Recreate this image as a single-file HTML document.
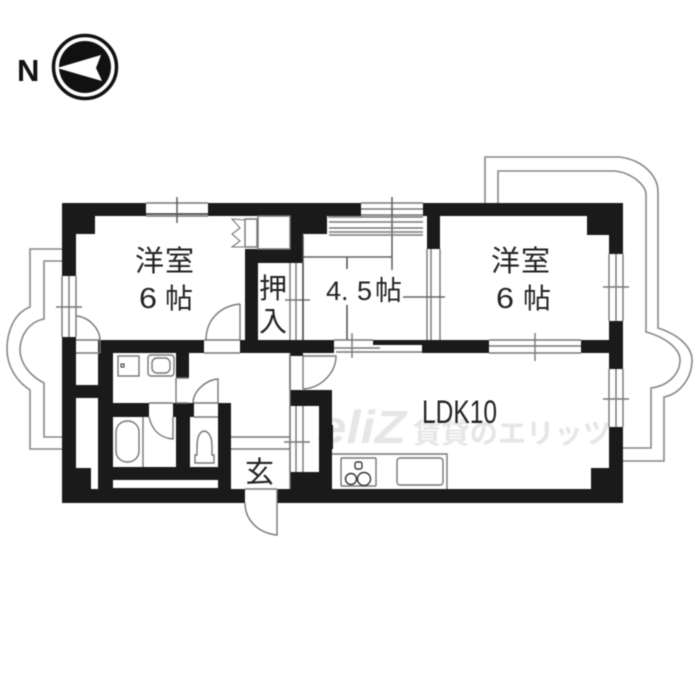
<!DOCTYPE html>
<html><head><meta charset="utf-8"><style>
html,body{margin:0;padding:0;background:#fff;width:700px;height:700px;overflow:hidden}
svg{display:block;filter:blur(.4px)}
text{font-family:"Liberation Sans","Noto Sans CJK JP",sans-serif;fill:#222}
</style></head><body>
<svg width="700" height="700" viewBox="0 0 700 700" xmlns="http://www.w3.org/2000/svg">
<!-- compass -->
<text x="17" y="81" font-size="31" font-weight="bold" style="fill:#111">N</text>
<circle cx="85" cy="67" r="31.5" fill="#fff" stroke="#111" stroke-width="3.5"/>
<circle cx="85" cy="67" r="26" fill="#111"/>
<polygon points="57,68 101,55 96,68 102,81" fill="#fff"/>
<!-- watermark -->
<text x="318" y="443" font-size="46" font-weight="bold" font-style="italic" textLength="88" lengthAdjust="spacingAndGlyphs" style="fill:#e6e6e6">eliZ</text>
<text x="413" y="443" font-size="28" font-weight="bold" textLength="198" lengthAdjust="spacingAndGlyphs" style="fill:#e6e6e6">賃貸のエリッツ</text>
<!-- balconies -->
<g fill="none" stroke="#888" stroke-width="1.6">
<path d="M62 249H30V307C12 314 7 335 7 349C7 365 15 380 30 390V449H62"/>
<path d="M62 261H44V319C28 322 20 337 20 350C20 363 30 376 44 383V437H62"/>
<path d="M485 203V157H620C642 160 658 175 658 192V328C680 335 692 348 692 360C692 378 680 394 664 397V461H623"/>
<path d="M498 203V171H615C632 173 646 185 646 195V332C668 338 680 350 680 360C680 374 668 386 651 388V448H623"/>
</g>
<!-- walls -->
<g fill="#1a1a1a">
<rect x="62" y="203" width="84" height="13"/>
<rect x="208" y="203" width="153" height="13"/>
<rect x="423" y="203" width="200" height="13"/>
<rect x="62" y="216" width="33" height="18"/>
<rect x="62" y="234" width="14" height="42"/>
<rect x="62" y="337" width="14" height="166"/>
<rect x="290" y="216" width="37" height="18"/>
<rect x="290" y="234" width="13" height="29"/>
<rect x="245" y="249" width="58" height="14"/>
<rect x="245" y="263" width="13" height="77"/>
<rect x="100" y="340" width="104" height="13"/>
<rect x="240" y="340" width="94" height="13"/>
<rect x="290" y="353" width="13" height="3"/>
<rect x="427" y="216" width="13" height="33"/>
<rect x="587" y="216" width="36" height="19"/>
<rect x="609" y="235" width="14" height="19"/>
<rect x="609" y="321" width="14" height="48"/>
<rect x="609" y="427" width="14" height="76"/>
<rect x="591" y="468" width="32" height="35"/>
<rect x="373" y="340" width="50" height="5"/>
<rect x="422" y="340" width="67" height="13"/>
<rect x="581" y="340" width="42" height="13"/>
<rect x="62" y="489" width="183" height="14"/>
<rect x="277" y="489" width="346" height="14"/>
<rect x="98" y="340" width="15" height="149"/>
<rect x="76" y="385" width="24" height="13"/>
<rect x="76" y="468" width="15" height="21"/>
<rect x="176" y="353" width="13" height="25"/>
<rect x="113" y="403" width="36" height="14"/>
<rect x="173" y="403" width="21" height="14"/>
<rect x="176" y="417" width="14" height="50"/>
<rect x="218" y="403" width="13" height="86"/>
<rect x="113" y="467" width="105" height="13"/>
<rect x="113" y="488" width="105" height="2"/>
<rect x="290" y="390" width="42" height="16"/>
<rect x="319" y="406" width="13" height="66"/>
<rect x="290" y="472" width="42" height="31"/>
<path d="M320 430C318 438 318 446 326 449H333V425C328 424 322 425 320 430Z"/>
</g>
<!-- thin lines -->
<g fill="none" stroke="#777" stroke-width="1.4">
<path d="M146 203H208M146 216H208"/>
<path d="M146 214H208" stroke="#333"/>
<path d="M177 197V223" stroke="#555"/>
<path d="M62 276V337M69 276V337M76 276V337M56 307H82"/>
<path d="M76 316C90 317 100 330 100 340V353M76 353H100M76 340H100"/>
<path d="M240 304C220 306 206 320 206 340M240 304V340M204 353H240M204 340H240"/>
<path d="M258 216H290V249H258ZM245 219H257V247H245Z"/>
<path d="M245 220L232 219L240 228L232 234L240 241L232 247H245" stroke-width="1.1"/>
<path d="M290 263V340M296 263V340M303 263V340M285 300H310"/>
<path d="M361 203H423M361 209H423M361 215H423"/>
<path d="M392 197V270" stroke="#555"/>
<path d="M328 217H423M329 222H423M329 228H423M329 232H423M329 235H423"/>
<path d="M303 257H392" stroke="#666"/>
<path d="M347 257V269M347 305V340" stroke="#444"/>
<path d="M303 235V340" stroke="#444"/>
<path d="M427 249V340M431 249V340M440 249V340"/>
<path d="M403 297H445" stroke="#666"/>
<path d="M334 340H373M334 348H380M336 352H422M352 333V358"/>
<path d="M489 340H581M489 346H581M489 353H581M535 333V361"/>
<path d="M609 254V321M616 254V321M623 254V321M603 287H629"/>
<path d="M609 369V427M616 369V427M623 369V427M603 399H629"/>
<path d="M303 356H336C336 372 322 388 303 389M290 356V389M303 356V389"/>
<path d="M231 437H290M231 449H290"/>
<path d="M290 353V390M290 406V472M296 406V472M303 406V472M284 442H310"/>
<path d="M290 353V489"/>
<path d="M245 503C245 520 258 533 277 535V489M245 489H277"/>
<path d="M176 378H189M176 403H189M176 378V403"/>
<path d="M193 403C193 392 205 380 218 379V403M194 403H218M194 417H218"/>
<path d="M149 403H173M149 417C152 430 160 438 173 439V417"/>
<rect x="118" y="356" width="21" height="20"/>
<rect x="148" y="355" width="26" height="21" rx="3"/>
<rect x="152" y="358" width="18" height="15" rx="5"/>
<rect x="121" y="364" width="3" height="3" stroke="#333" stroke-width="1"/>
<path d="M143 417V467"/>
<rect x="116" y="421" width="23" height="41" rx="11"/>
<path d="M197 455V447C197 440 198 432 204 431C211 432 212 440 212 447V455H214V463H195V455Z"/>
<path d="M332 454H447V489"/>
<rect x="341" y="458" width="35" height="28" rx="1"/>
<rect x="397" y="458" width="46" height="27" rx="3"/>
<rect x="355" y="462" width="7" height="7" rx="2" stroke="#333"/>
<circle cx="351" cy="479" r="5.5" stroke="#333"/>
<circle cx="364" cy="479" r="6.5" stroke="#333"/>
</g>
<!-- labels -->
<g font-size="29">
<text x="135" y="271" textLength="59">洋室</text>
<text x="139" y="308" font-size="29" textLength="18" lengthAdjust="spacingAndGlyphs">6</text><text x="165" y="308" font-size="28">帖</text>
<text x="491" y="271" textLength="59">洋室</text>
<text x="496" y="308" font-size="29" textLength="18" lengthAdjust="spacingAndGlyphs">6</text><text x="523" y="308" font-size="28">帖</text>
<text x="326" y="300" font-size="27">4.</text>
<text x="357" y="300" font-size="27">5</text><text x="375" y="300" font-size="27">帖</text>
<text x="259" y="298" font-size="28">押</text>
<text x="259" y="331" font-size="28">入</text>
<text x="245" y="482" font-size="29">玄</text>
<text x="422" y="423" font-size="32" textLength="75" lengthAdjust="spacingAndGlyphs">LDK10</text>
</g>
</svg>
</body></html>
